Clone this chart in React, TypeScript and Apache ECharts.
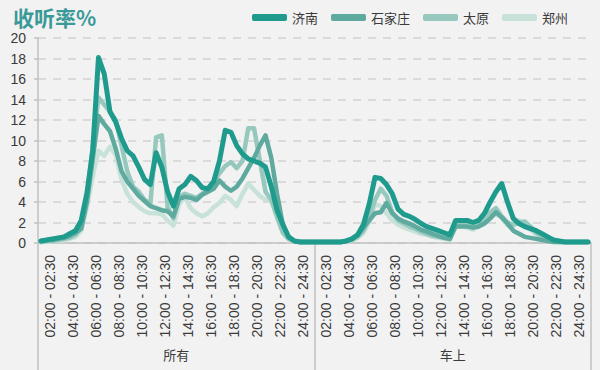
import React, { useEffect, useRef } from "react";
import * as echarts from "echarts";

const cities = ["济南", "石家庄", "太原", "郑州"];
const cityColors = ["#1e9b8c", "#5faa9e", "#96c8be", "#c8e2da"];
const groups = ["所有", "车上"];
const tickLabels = [
  "02:00 - 02:30", "04:00 - 04:30", "06:00 - 06:30", "08:00 - 08:30",
  "10:00 - 10:30", "12:00 - 12:30", "14:00 - 14:30", "16:00 - 16:30",
  "18:00 - 18:30", "20:00 - 20:30", "22:00 - 22:30", "24:00 - 24:30",
];
const yMin = 0;
const yMax = 20;
const yStep = 2;

// half-hour slots per group, 02:00 .. 26:00 (48 slots)
const jinanAll = [0.2,0.3,0.4,0.5,0.6,0.9,1.2,2.2,4.9,9.0,18.1,16.5,12.8,11.8,10.2,9.0,8.5,7.4,6.2,5.7,8.8,7.4,5.0,3.6,5.3,5.7,6.5,6.1,5.4,5.3,6.0,8.0,11.0,10.8,9.5,8.7,8.2,8.0,7.8,7.4,5.5,3.2,1.8,0.6,0.2,0.1,0.1,0.1];
const jinanCar = [0.1,0.1,0.1,0.1,0.1,0.2,0.4,0.8,1.8,3.8,6.4,6.3,5.7,4.8,3.3,2.8,2.6,2.3,1.9,1.6,1.4,1.2,1.0,0.8,2.2,2.2,2.2,2.0,2.2,2.9,4.0,5.0,5.8,4.0,2.4,1.9,1.6,1.4,1.2,0.9,0.6,0.3,0.2,0.1,0.1,0.1,0.1,0.1];
const sjzAll = [0.2,0.3,0.3,0.4,0.5,0.7,1.0,1.4,4.0,8.2,12.4,11.6,10.9,9.2,7.0,6.0,5.3,4.6,4.1,3.6,3.4,3.2,3.1,2.6,4.3,4.5,4.4,4.2,4.7,5.0,5.3,6.1,5.5,5.1,5.5,6.3,7.3,8.3,9.5,10.5,8.3,4.8,1.8,0.6,0.2,0.1,0.1,0.1];
const sjzCar = [0.1,0.1,0.1,0.1,0.1,0.2,0.4,0.8,1.5,2.2,2.9,3.0,3.9,2.9,2.4,2.1,1.9,1.6,1.3,1.1,0.9,0.7,0.5,0.4,1.6,1.6,1.6,1.5,1.6,1.9,2.4,3.0,2.5,1.9,1.2,0.9,0.6,0.5,0.4,0.3,0.2,0.1,0.1,0.1,0.1,0.1,0.1,0.1];
const taiyuanAll = [0.1,0.2,0.2,0.3,0.4,0.5,0.8,1.5,4.5,9.5,14.2,13.5,12.8,12.0,9.5,7.0,5.5,5.0,4.2,3.8,10.3,10.5,3.5,2.4,4.5,4.8,4.6,4.4,4.8,5.3,6.0,6.8,7.5,7.9,7.3,8.0,11.2,11.2,8.1,5.0,4.2,2.5,1.0,0.4,0.2,0.1,0.1,0.1];
const taiyuanCar = [0.1,0.1,0.1,0.1,0.1,0.2,0.3,0.6,1.2,2.5,4.2,5.3,4.6,3.0,2.2,1.9,1.6,1.4,1.1,0.9,0.7,0.6,0.5,0.4,1.9,2.0,1.8,1.5,1.9,2.5,3.0,3.4,2.6,2.0,1.8,2.0,2.1,1.6,1.0,0.6,0.3,0.2,0.1,0.1,0.1,0.1,0.1,0.1];
const zzAll = [0.1,0.1,0.2,0.2,0.3,0.4,0.6,1.2,3.5,6.5,9.0,8.5,9.4,8.6,6.2,4.8,4.0,3.5,3.1,2.9,2.9,2.8,2.2,1.7,3.8,4.5,3.4,2.9,2.6,2.9,3.5,3.9,4.6,4.2,3.6,4.8,5.8,5.2,4.6,4.2,4.2,2.8,1.2,0.4,0.2,0.1,0.1,0.1];
const zzCar = [0.1,0.1,0.1,0.1,0.1,0.2,0.3,0.5,1.0,2.0,3.8,3.6,2.9,2.2,1.8,1.5,1.3,1.1,0.9,0.8,0.6,0.5,0.4,0.3,1.7,1.6,1.5,1.3,1.6,2.1,2.5,2.8,2.5,1.7,1.6,2.2,1.8,1.3,0.8,0.5,0.3,0.1,0.1,0.1,0.1,0.1,0.1,0.1];

const seriesValues = [
  jinanAll.concat(jinanCar),
  sjzAll.concat(sjzCar),
  taiyuanAll.concat(taiyuanCar),
  zzAll.concat(zzCar),
];

const pad = (n: number) => (n < 10 ? "0" + n : "" + n);
const slotName = (k: number) => {
  const s = 120 + k * 30;
  const e = s + 30;
  return `${pad(Math.floor(s / 60))}:${pad(s % 60)} - ${pad(Math.floor(e / 60))}:${pad(e % 60)}`;
};
const slotCategories: string[] = [];
groups.forEach((g) => {
  for (let k = 0; k < jinanAll.length; k++) slotCategories.push(g + " " + slotName(k));
});
const labelCategories = tickLabels.concat(tickLabels);

const FONT = "'Liberation Sans', 'Noto Sans CJK SC', sans-serif";
const CJK = "'Noto Sans CJK SC', sans-serif";
const AXIS = "#c0c0c0";
const TEXT = "#3a3a3a";

export default function App() {
  const ref = useRef<HTMLDivElement>(null);
  useEffect(() => {
    document.body.style.margin = "0";
    document.body.style.background = "#f2f2f2";
    const chart = echarts.init(ref.current!, null, { renderer: "svg" });
    const order = [3, 2, 1, 0];
    chart.setOption({
      animation: false,
      backgroundColor: "#f2f2f2",
      textStyle: { fontFamily: FONT },
      title: {
        text: "收听率%",
        left: 8,
        top: 1,
        textStyle: { color: "#3a9a98", fontSize: 21, fontWeight: "bold", fontFamily: CJK },
      },
      legend: {
        data: cities,
        left: 247,
        top: 6,
        icon: "roundRect",
        itemWidth: 35,
        itemHeight: 7,
        itemGap: 13,
        textStyle: { fontSize: 13, color: TEXT, fontFamily: CJK },
      },
      grid: { left: 38, right: 9, top: 38, bottom: 127, containLabel: false },
      xAxis: [
        {
          type: "category",
          position: "bottom",
          data: slotCategories,
          boundaryGap: true,
          axisLine: { show: true, lineStyle: { color: AXIS, width: 1.5 } },
          axisTick: { show: false },
          axisLabel: { show: false },
          splitLine: { show: false },
        },
        {
          type: "category",
          position: "bottom",
          data: labelCategories,
          boundaryGap: true,
          axisLine: { show: false },
          axisTick: { show: false },
          axisLabel: {
            show: true,
            interval: 0,
            rotate: 90,
            margin: 12,
            fontSize: 14,
            color: TEXT,
            fontFamily: FONT,
          },
          splitLine: { show: false },
        },
        {
          type: "category",
          position: "bottom",
          data: groups,
          boundaryGap: true,
          axisLine: { show: false },
          axisTick: { show: true, length: 130, lineStyle: { color: AXIS, width: 1.5 } },
          axisLabel: { show: true, interval: 0, margin: 105, fontSize: 13, color: TEXT, fontFamily: CJK },
          splitLine: { show: false },
        },
      ],
      yAxis: {
        type: "value",
        min: yMin,
        max: yMax,
        interval: yStep,
        axisLine: { show: true, lineStyle: { color: AXIS, width: 1.5 } },
        axisTick: { show: true, length: 4, lineStyle: { color: AXIS, width: 1.5 } },
        axisLabel: { fontSize: 14, color: TEXT, margin: 12, fontFamily: FONT },
        splitLine: { show: true, lineStyle: { color: "#d2d2d2", width: 1.5, type: [8, 7] } },
      },
      series: order.map((ci) => ({
        name: cities[ci],
        type: "line",
        xAxisIndex: 0,
        data: seriesValues[ci],
        showSymbol: false,
        symbol: "none",
        smooth: false,
        z: 10 - ci,
        lineStyle: { color: cityColors[ci], width: ci === 0 ? 5 : 4.5, cap: "round", join: "round" },
        itemStyle: { color: cityColors[ci] },
      })),
    });
    return () => chart.dispose();
  }, []);
  return <div ref={ref} style={{ width: 600, height: 370, position: "fixed", left: 0, top: 0 }} />;
}
